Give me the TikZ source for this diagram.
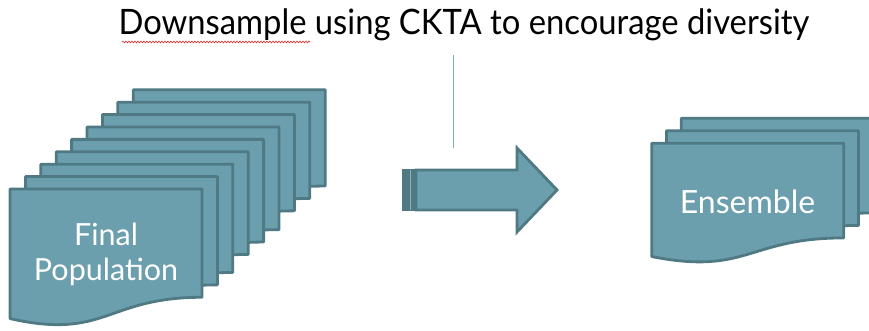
\documentclass[tikz,border=0pt]{standalone}
\usepackage{fontspec}
\setmainfont{Lato}
\usetikzlibrary{decorations.pathmorphing}

\definecolor{pagefill}{RGB}{107,159,174}
\definecolor{pageedge}{RGB}{79,121,131}
\definecolor{guideline}{RGB}{127,175,189}
\definecolor{spellred}{RGB}{220,40,40}

\tikzset{
  pagestyle/.style={fill=pagefill, draw=pageedge, line width=2.8pt, line join=round},
  arrowstyle/.style={fill=pagefill, draw=pageedge, line width=2.8pt, line join=miter},
  pagelabel/.style={text=white, font=\fontsize{30.5}{35}\selectfont, align=center},
  titlelabel/.style={text=black, font=\fontsize{35}{40}\selectfont, inner sep=0pt},
}

% one flowchart "document" page: top-left corner (#1,#2), width #3, height #4
\newcommand{\docpage}[4]{%
  \path[pagestyle] (#1,#2) -- ++(#3,0) -- ++(0,0.802*#4)
    .. controls ++(-0.5*#3,0) and (#1+0.5*#3,#2+1.12*#4) .. (#1,#2+0.96*#4) -- cycle;
}

\begin{document}
\begin{tikzpicture}[x=1pt,y=-1pt]
  \useasboundingbox (0,0) rectangle (869,331);
  \clip (0,0) rectangle (869,331);

  % title and the short guide line under it
  \node[titlelabel, anchor=base] (title) at (464,35)
    {\scalebox{0.936}[1]{Downsample using CKTA to encourage diversity}};
  \draw[spellred, line width=0.6pt, decorate,
        decoration={snake, amplitude=0.9pt, segment length=3pt}]
        (122,42) -- (310,42);
  \coordinate (guidetop) at (453.5,55);
  \coordinate (guidebot) at (453.5,148);
  \draw[guideline, line width=1.3pt] (guidetop) -- (guidebot);

  % stack of nine pages, drawn back to front
  \foreach \i in {8,7,...,0}{
    \pgfmathsetmacro{\px}{10+15.4*\i}
    \pgfmathsetmacro{\py}{189-12.4*\i}
    \pgfmathsetmacro{\ph}{\i<3 ? 135 : (\i<6 ? 128 : 120)}
    \docpage{\px}{\py}{192}{\ph}
  }
  \node[pagelabel] (final) at (106,254) {Final\\Population};

  % block arrow with its darker tail band
  \path[fill=pageedge] (402,169) rectangle (416,211);
  \draw[pagefill!80!white, line width=0.8pt] (410.5,170) -- (410.5,210);
  \path[arrowstyle] (416,170) -- (517,170) -- (517,148) -- (557,190)
    -- (517,232) -- (517,210) -- (416,210) -- cycle;

  % three-page stack on the right
  \docpage{681.3}{118.3}{192}{118}
  \docpage{666.5}{130.8}{192}{118}
  \docpage{651.7}{143.3}{192}{118}
  \node[pagelabel, font=\fontsize{32}{36}\selectfont] (ensemble) at (747.5,202) {Ensemble};
\end{tikzpicture}
\end{document}
